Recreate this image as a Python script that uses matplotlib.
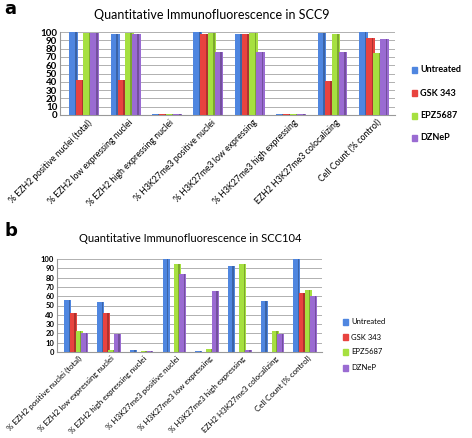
import numpy as np
import matplotlib.pyplot as plt

categories = ['% EZH2 positive nuclei (total)', '% EZH2 low expressing nuclei',
              '% EZH2 high expressing nuclei', '% H3K27me3 positive nuclei',
              '% H3K27me3 low expressing', '% H3K27me3 high expressing',
              'EZH2 H3K27me3 colocalizing', 'Cell Count (% control)']
treatments = ['Untreated', 'GSK 343', 'EPZ5687', 'DZNeP']
colors = ['#4f86e0', '#e8433f', '#a6e040', '#9a6bd2']
yticks = list(range(0, 101, 10))

# panel a: SCC9
scc9_untreated = [100, 98, 0.8, 100, 98, 0.8, 99, 100]
scc9_gsk343 = [42, 42, 0.8, 97, 97, 0.8, 41, 93]
scc9_epz5687 = [99, 99, 0.8, 99, 99, 0.8, 98, 75]
scc9_dznep = [99, 97, 0.8, 76, 76, 0.8, 76, 92]

# panel b: SCC104
scc104_untreated = [56, 54, 2, 100, 1, 92, 55, 100]
scc104_gsk343 = [42, 42, 0.5, 0.5, 0.5, 0.5, 0.5, 63]
scc104_epz5687 = [23, 2, 1, 95, 3, 95, 23, 67]
scc104_dznep = [20, 19, 1, 84, 66, 2, 19, 60]

W, H = 472, 438
fig = plt.figure(figsize=(W / 100, H / 100), dpi=100)
plt.rcParams['font.family'] = ['Lato', 'DejaVu Sans']


def px_axes(x0, y0, x1, y1):
    return fig.add_axes([x0 / W, 1 - y1 / H, (x1 - x0) / W, (y1 - y0) / H])


def draw_panel(ax, series, tick_fs, label_fs):
    x = np.arange(len(categories))
    bw = 0.17
    for i, (vals, c) in enumerate(zip(series, colors)):
        pos = x + (i - 1.5) * bw
        # darker side face for a faux 3D look
        ax.bar(pos + bw * 0.35, vals, bw, color=c, edgecolor='none', zorder=2)
        ax.bar(pos + bw * 0.35, vals, bw * 0.3, color='black', alpha=0.25,
               edgecolor='none', zorder=2, align='edge')
        ax.bar(pos, vals, bw * 0.8, color=c, edgecolor='none', zorder=3)
    ax.set_xlim(-0.55, len(categories) - 0.45)
    ax.set_ylim(0, 100)
    ax.set_yticks(yticks)
    ax.set_yticklabels([str(t) for t in yticks], fontsize=tick_fs, fontweight='bold')
    ax.yaxis.grid(True, color='#b0b0b0', lw=0.7, zorder=0)
    ax.set_xticks(x + 0.1)
    ax.set_xticklabels(categories, rotation=45, ha='right', rotation_mode='anchor',
                       fontsize=label_fs)
    ax.tick_params(axis='both', length=0, pad=2)
    for s in ['top', 'right']:
        ax.spines[s].set_visible(False)
    ax.spines['left'].set_color('#999999')
    ax.spines['bottom'].set_color('#999999')
    ax.set_facecolor('white')


ax1 = px_axes(60, 32, 395, 115)
draw_panel(ax1, [scc9_untreated, scc9_gsk343, scc9_epz5687, scc9_dznep], 7, 6.3)
fig.text(212 / W, 1 - 15 / H, 'Quantitative Immunofluorescence in SCC9',
         ha='center', va='center', fontsize=9)
fig.text(4 / W, 1 - 9 / H, 'a', fontsize=13, fontweight='bold', va='center',
         family='DejaVu Sans')
for i, (t, c) in enumerate(zip(treatments, colors)):
    y = [70, 93, 116, 138][i]
    fig.patches.append(plt.Rectangle((412 / W, 1 - (y + 3) / H), 5 / W, 6 / H,
                                     color=c, transform=fig.transFigure))
    fig.text(420 / W, 1 - y / H, t, fontsize=6.5, fontweight='bold', va='center')

ax2 = px_axes(57, 259, 322, 352)
draw_panel(ax2, [scc104_untreated, scc104_gsk343, scc104_epz5687, scc104_dznep], 5.5, 5.7)
fig.text(190 / W, 1 - 238 / H, 'Quantitative Immunofluorescence in SCC104',
         ha='center', va='center', fontsize=8)
fig.text(4 / W, 1 - 231 / H, 'b', fontsize=13, fontweight='bold', va='center',
         family='DejaVu Sans')
for i, (t, c) in enumerate(zip(treatments, colors)):
    y = [322, 337, 352, 368][i]
    fig.patches.append(plt.Rectangle((343 / W, 1 - (y + 3) / H), 5 / W, 6 / H,
                                     color=c, transform=fig.transFigure))
    fig.text(351 / W, 1 - y / H, t, fontsize=5.5, va='center')

fig.savefig('out.png', dpi=100)
